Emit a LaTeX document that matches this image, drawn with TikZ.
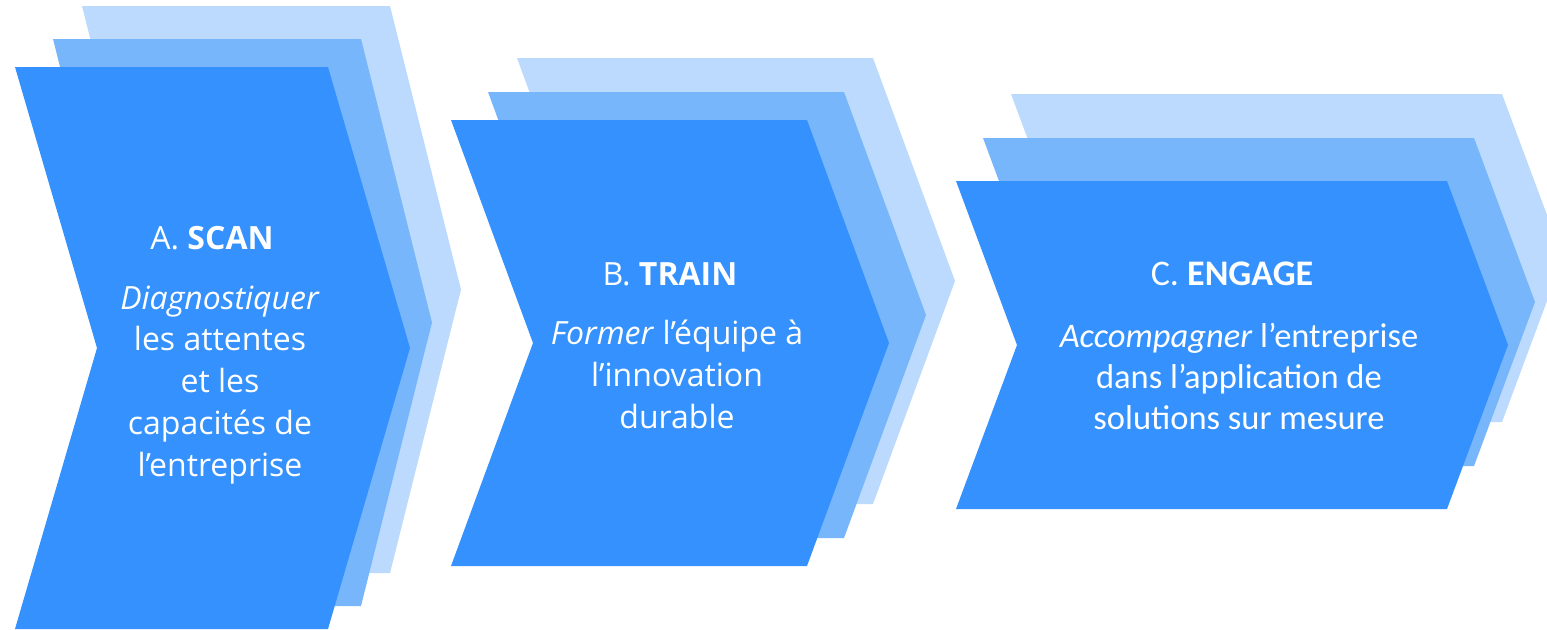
\documentclass[tikz,border=0pt]{standalone}
\usepackage{fontspec}
\newfontfamily\bodyfont{Open Sans}
\newfontfamily\calfont{Carlito}
\definecolor{chevfront}{RGB}{52,145,253}
\definecolor{chevmid}{RGB}{120,182,252}
\definecolor{chevback}{RGB}{187,218,253}
% #1 left x, #2 top-right x, #3 top y, #4 bottom y, #5 point depth, #6 colour
\newcommand\drawchev[6]{%
  \fill[#6] (#1,#3) -- (#2,#3) -- ({#2+#5},{(#3+#4)/2}) -- (#2,#4)
    -- (#1,#4) -- ({#1+#5},{(#3+#4)/2}) -- cycle;}
\begin{document}
\begin{tikzpicture}[x=1pt,y=-1pt,
  label/.style={text=white,inner sep=0pt,anchor=base,align=center},
  sansA/.style={font=\bodyfont\fontsize{32}{41.7}\selectfont},
  sansC/.style={font=\calfont\fontsize{34.5}{41}\selectfont},
  titleCfont/.style={font=\calfont\fontsize{36}{41}\selectfont}]
\useasboundingbox (0,0) rectangle (1547,629);
% A. SCAN
\drawchev{82}{390}{6}{573}{71}{chevback}
\drawchev{53}{361}{39}{606}{71}{chevmid}
\drawchev{15}{328}{67}{629}{82}{chevfront}
% B. TRAIN
\drawchev{517}{873}{58}{504}{82}{chevback}
\drawchev{488}{844}{92}{538}{82}{chevmid}
\drawchev{451}{807}{120}{566}{82}{chevfront}
% C. ENGAGE
\drawchev{1011}{1502}{94}{422}{61}{chevback}
\drawchev{983}{1474}{138}{466}{61}{chevmid}
\drawchev{956}{1447}{181}{509}{61}{chevfront}
% texts (base anchor sits on the last line's baseline)
\node[label,sansA] (titleA) at (212,249) {A. \textbf{SCAN}};
\node[label,sansA] (bodyA) at (220,476) {\textit{Diagnostiquer}\\les attentes\\et les\\capacités de\\l’entreprise};
\node[label,sansA] (titleB) at (670,285) {B. \textbf{TRAIN}};
\node[label,sansA] (bodyB) at (677,428) {\textit{Former} l’équipe à\\l’innovation\\durable};
\node[label,titleCfont] (titleC) at (1232,285) {C. \textbf{ENGAGE}};
\node[label,sansC] (bodyC) at (1239,429) {\textit{Accompagner} l’entreprise\\dans l’application de\\solutions sur mesure};
\end{tikzpicture}
\end{document}
